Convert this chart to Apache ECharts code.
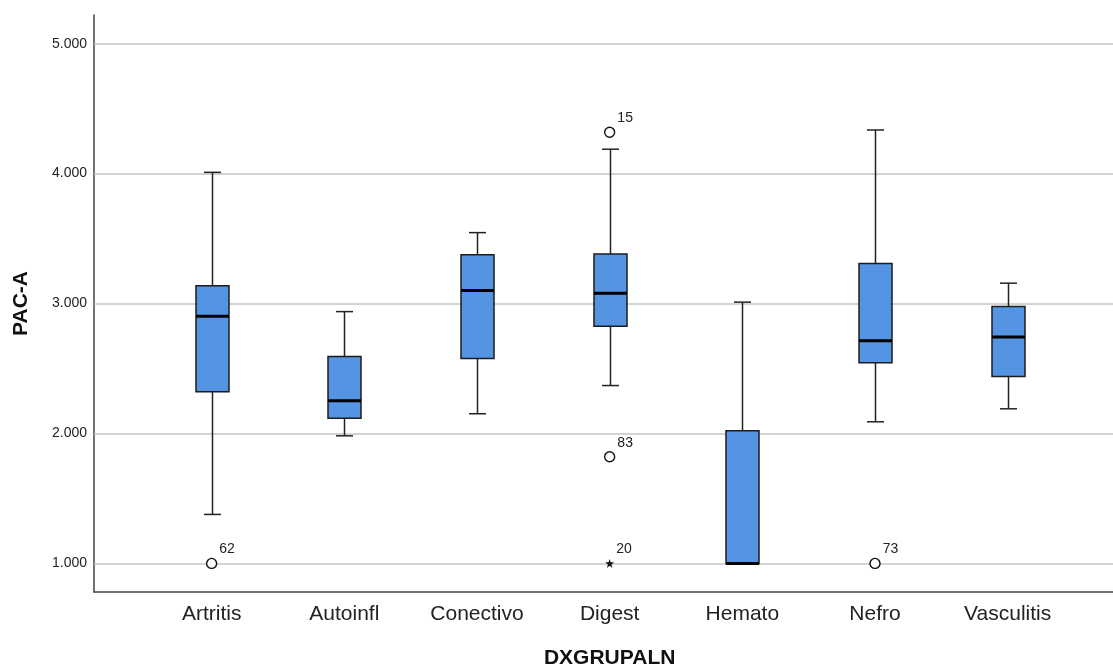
<!DOCTYPE html>
<html>
<head>
<meta charset="utf-8">
<script src="https://cdn.jsdelivr.net/npm/echarts@6/dist/echarts.min.js"></script>
<style>
html,body{margin:0;padding:0;background:#fff;}
#chart{width:1113px;height:666px;}
</style>
</head>
<body>
<div id="chart"></div>
<script>
var categories = ['Artritis', 'Autoinfl', 'Conectivo', 'Digest', 'Hemato', 'Nefro', 'Vasculitis'];
var lowWhisker  = [1.377, 1.982, 2.152, 2.369, 1.000, 2.090, 2.190];
var q1          = [2.321, 2.118, 2.577, 2.826, 1.000, 2.544, 2.438];
var median      = [2.903, 2.252, 3.100, 3.080, 1.000, 2.713, 2.742];
var q3          = [3.138, 2.592, 3.375, 3.382, 2.021, 3.308, 2.977];
var highWhisker = [4.010, 2.938, 3.546, 4.188, 3.011, 4.336, 3.157];
var outlierCat   = ['Artritis', 'Digest', 'Digest', 'Nefro'];
var outlierValue = [1.000, 4.318, 1.821, 1.000];
var outlierId    = ['62', '15', '83', '73'];
var extremeCat   = ['Digest'];
var extremeValue = [1.000];
var extremeId    = ['20'];
var yTicks = [1, 2, 3, 4, 5];
var yTickLabels = ['1.000', '2.000', '3.000', '4.000', '5.000'];

var Y_MIN = 0.78, Y_MAX = 5.221;

var boxData = categories.map(function (c, i) {
  return [i, lowWhisker[i], q1[i], median[i], q3[i], highWhisker[i]];
});
var outData = outlierCat.map(function (c, i) {
  return [categories.indexOf(c), outlierValue[i], outlierId[i]];
});
var extData = extremeCat.map(function (c, i) {
  return [categories.indexOf(c), extremeValue[i], extremeId[i]];
});

var FONT = '"Liberation Sans", Arial, sans-serif';
var chart = echarts.init(document.getElementById('chart'), null, {renderer: 'canvas'});

var outLabel = {
  show: true,
  position: 'right',
  distance: 2,
  offset: [0, -14],
  fontFamily: FONT,
  fontSize: 14,
  color: '#222',
  formatter: function (p) { return p.value[2]; }
};

var option = {
  animation: false,
  backgroundColor: '#fff',
  grid: [
    {left: 94, right: 0, top: 15, bottom: 74, containLabel: false, outerBoundsMode: 'none'},
    {left: 145.3, right: 39, top: 15, bottom: 74, containLabel: false, outerBoundsMode: 'none'}
  ],
  xAxis: [
    {
      gridIndex: 0, type: 'value', min: 0, max: 1,
      axisLine: {show: true, onZero: false, lineStyle: {color: '#444', width: 1.5}},
      axisTick: {show: false}, axisLabel: {show: false}, splitLine: {show: false}
    },
    {
      gridIndex: 1, type: 'category', data: categories, boundaryGap: true,
      axisLine: {show: false}, axisTick: {show: false}, splitLine: {show: false},
      axisLabel: {fontFamily: FONT, fontSize: 21, color: '#222', margin: 12, interval: 0},
      name: 'DXGRUPALN', nameLocation: 'middle', nameGap: 56,
      nameTextStyle: {fontFamily: FONT, fontSize: 21, fontWeight: 'bold', color: '#111'}
    }
  ],
  yAxis: [
    {
      gridIndex: 0, type: 'value', min: Y_MIN, max: Y_MAX,
      axisLine: {show: true, lineStyle: {color: '#444', width: 1.5}},
      axisTick: {show: false},
      splitLine: {show: false},
      axisLabel: {
        customValues: yTicks,
        fontFamily: FONT, fontSize: 14, color: '#222', margin: 7,
        formatter: function (v) {
          var i = yTicks.indexOf(Math.round(v));
          return i >= 0 ? yTickLabels[i] : '';
        }
      },
      name: 'PAC-A', nameLocation: 'middle', nameGap: 62, nameRotate: 90,
      nameTextStyle: {fontFamily: FONT, fontSize: 21, fontWeight: 'bold', color: '#111'}
    },
    {
      gridIndex: 1, type: 'value', min: Y_MIN, max: Y_MAX, show: false,
      splitLine: {show: false}
    }
  ],
  series: [
    {
      type: 'line', xAxisIndex: 0, yAxisIndex: 0, data: [], silent: true, z: 1,
      markLine: {
        silent: true, symbol: ['none', 'none'], animation: false,
        label: {show: false},
        lineStyle: {type: 'solid', color: '#c4c4c4', width: 1.5},
        emphasis: {disabled: true},
        data: yTicks.map(function (v) { return {yAxis: v}; })
      }
    },
    {
      type: 'custom', xAxisIndex: 1, yAxisIndex: 1, z: 5,
      data: boxData,
      encode: {x: 0, y: [1, 2, 3, 4, 5]},
      renderItem: function (params, api) {
        var x = api.value(0);
        var lo = api.coord([x, api.value(1)]);
        var b1 = api.coord([x, api.value(2)]);
        var md = api.coord([x, api.value(3)]);
        var b3 = api.coord([x, api.value(4)]);
        var hi = api.coord([x, api.value(5)]);
        var cx = Math.round(lo[0]) + 0.5;
        var bw = 33, cw = 17;
        var ls = {stroke: '#222', lineWidth: 1.5};
        return {
          type: 'group',
          children: [
            {type: 'line', shape: {x1: cx, y1: hi[1], x2: cx, y2: b3[1]}, style: ls},
            {type: 'line', shape: {x1: cx, y1: b1[1], x2: cx, y2: lo[1]}, style: ls},
            {type: 'line', shape: {x1: cx - cw / 2, y1: hi[1], x2: cx + cw / 2, y2: hi[1]}, style: ls},
            {type: 'line', shape: {x1: cx - cw / 2, y1: lo[1], x2: cx + cw / 2, y2: lo[1]}, style: ls},
            {type: 'rect', shape: {x: cx - bw / 2, y: b3[1], width: bw, height: b1[1] - b3[1]},
              style: {fill: '#5494e2', stroke: '#1c1c1c', lineWidth: 1.5}},
            {type: 'line', shape: {x1: cx - bw / 2, y1: md[1], x2: cx + bw / 2, y2: md[1]},
              style: {stroke: '#000', lineWidth: 3}}
          ]
        };
      }
    },
    {
      type: 'scatter', xAxisIndex: 1, yAxisIndex: 1, z: 6,
      data: outData,
      symbol: 'circle', symbolSize: 10,
      itemStyle: {color: '#fff', borderColor: '#111', borderWidth: 1.4, opacity: 1},
      label: outLabel
    },
    {
      type: 'scatter', xAxisIndex: 1, yAxisIndex: 1, z: 6,
      data: extData,
      symbol: 'path://M50,0 L61.8,36.2 L100,36.2 L69.1,58.6 L80.9,95.1 L50,72.7 L19.1,95.1 L30.9,58.6 L0,36.2 L38.2,36.2 Z',
      symbolSize: 9,
      itemStyle: {color: '#111', opacity: 1},
      label: outLabel
    }
  ]
};
chart.setOption(option);
</script>
</body>
</html>
